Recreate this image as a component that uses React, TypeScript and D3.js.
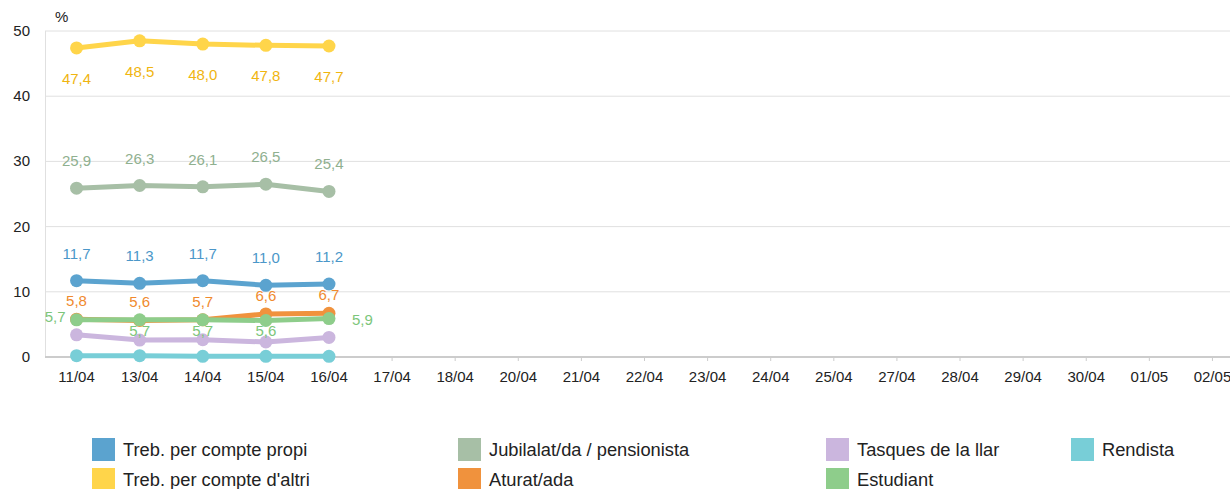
import React, { useEffect, useRef } from 'react';
import * as d3 from 'd3';

const categories = ['11/04', '13/04', '14/04', '15/04', '16/04', '17/04', '18/04', '20/04', '21/04', '22/04',
  '23/04', '24/04', '25/04', '27/04', '28/04', '29/04', '30/04', '01/05', '02/05'];
const yTicks = [0, 10, 20, 30, 40, 50];

const propi = [11.7, 11.3, 11.7, 11.0, 11.2];
const altri = [47.4, 48.5, 48.0, 47.8, 47.7];
const jubilat = [25.9, 26.3, 26.1, 26.5, 25.4];
const aturat = [5.8, 5.6, 5.7, 6.6, 6.7];
const tasques = [3.4, 2.6, 2.65, 2.3, 3.0];
const estudiant = [5.7, 5.7, 5.7, 5.6, 5.9];
const rendista = [0.2, 0.2, 0.1, 0.1, 0.1];

// where the green labels ended up (collision avoidance in the original)
const estudiantLabelPos = ['left', 'below', 'below', 'below', 'right'];

type Series = { name: string; data: number[]; color: string; labelColor?: string; labelDy?: number; labelPos?: string[] };

const series: Series[] = [
  { name: 'Treb. per compte propi', data: propi, color: '#5ba3cf', labelColor: '#4b97c9', labelDy: -22 },
  { name: "Treb. per compte d'altri", data: altri, color: '#ffd54a', labelColor: '#f0b510', labelDy: 36 },
  { name: 'Jubilalat/da / pensionista', data: jubilat, color: '#a7bfa6', labelColor: '#8fb08f', labelDy: -22 },
  { name: 'Aturat/ada', data: aturat, color: '#f0923d', labelColor: '#f08a2e', labelDy: -13 },
  { name: 'Tasques de la llar', data: tasques, color: '#cbb6de' },
  { name: 'Estudiant', data: estudiant, color: '#8ecd8b', labelColor: '#7cc67a', labelPos: estudiantLabelPos },
  { name: 'Rendista', data: rendista, color: '#78ced7' },
];

const legendRows = [
  ['Treb. per compte propi', 'Jubilalat/da / pensionista', 'Tasques de la llar', 'Rendista'],
  ["Treb. per compte d'altri", 'Aturat/ada', 'Estudiant'],
];
const legendCols = [92, 458, 826, 1071];

const W = 1230, H = 489;

export default function App() {
  const ref = useRef<SVGSVGElement>(null);

  useEffect(() => {
    const svg = d3.select(ref.current);
    svg.selectAll('*').remove();

    const x = d3.scaleBand().domain(categories).range([45, 1244]).padding(0);
    const cx = (c: string) => (x(c) as number) + x.bandwidth() / 2;
    const y = d3.scaleLinear().domain([0, 50]).range([357, 31]);

    const font = '"Liberation Sans", Arial, sans-serif';
    svg.attr('font-family', font);

    // grid
    svg.append('g').selectAll('line').data(yTicks.filter(t => t > 0)).enter().append('line')
      .attr('x1', 45).attr('x2', W).attr('y1', d => y(d)).attr('y2', d => y(d))
      .attr('stroke', '#e0e0e0').attr('stroke-width', 1);
    svg.append('line').attr('x1', 45.5).attr('x2', 45.5).attr('y1', y(50)).attr('y2', y(0))
      .attr('stroke', '#e0e0e0');

    svg.append('g').selectAll('text').data(yTicks).enter().append('text')
      .attr('x', 30).attr('y', d => y(d) + 5).attr('text-anchor', 'end')
      .attr('font-size', 15).attr('fill', '#222').text(d => d);
    svg.append('text').attr('x', 55).attr('y', 22).attr('font-size', 15).attr('fill', '#222').text('%');

    // x axis
    const xAxis = d3.axisBottom(x).tickSize(4).tickSizeOuter(0);
    const gx = svg.append('g').attr('transform', `translate(0,${y(0)})`).call(xAxis);
    gx.select('.domain').attr('stroke', '#cccccc').attr('stroke-width', 2).attr('d', `M45,0H${W}`);
    gx.selectAll('.tick line').attr('stroke', '#cccccc');
    gx.selectAll('.tick text').attr('font-size', 15).attr('fill', '#222').attr('font-family', font)
      .attr('y', 14).attr('dy', '0.71em');

    const line = d3.line<number>().x((_, i) => cx(categories[i])).y(d => y(d));

    series.forEach(s => {
      const g = svg.append('g');
      g.append('path').datum(s.data).attr('d', line).attr('fill', 'none')
        .attr('stroke', s.color).attr('stroke-width', 5).attr('stroke-linejoin', 'round');
      g.selectAll('circle').data(s.data).enter().append('circle')
        .attr('cx', (_, i) => cx(categories[i])).attr('cy', d => y(d)).attr('r', 6.5).attr('fill', s.color);
    });

    series.filter(s => s.labelColor).forEach(s => {
      const g = svg.append('g');
      s.data.forEach((d, i) => {
        const px = cx(categories[i]);
        const py = y(d);
        let tx = px, ty = py + (s.labelDy ?? 0), anchor = 'middle';
        if (s.labelPos) {
          const p = s.labelPos[i];
          if (p === 'left') { tx = px - 11; ty = py + 2; anchor = 'end'; }
          else if (p === 'right') { tx = px + 23; ty = py + 6; anchor = 'start'; }
          else { ty = py + 16; }
        }
        g.append('text').attr('x', tx).attr('y', ty).attr('text-anchor', anchor)
          .attr('font-size', 15).attr('fill', s.labelColor as string)
          .text(d3.format('.1f')(d).replace('.', ','));
      });
    });

    // legend
    legendRows.forEach((row, r) => {
      row.forEach((name, c) => {
        const s = series.find(v => v.name === name)!;
        const lx = legendCols[c];
        const ly = 438 + r * 30;
        svg.append('rect').attr('x', lx).attr('y', ly).attr('width', 23).attr('height', 23).attr('fill', s.color);
        svg.append('text').attr('x', lx + 31).attr('y', ly + 18).attr('font-size', 18.3).attr('fill', '#222').text(name);
      });
    });
  }, []);

  return <svg ref={ref} width={W} height={H} style={{ position: 'absolute', left: 0, top: 0, background: '#fff' }} />;
}
